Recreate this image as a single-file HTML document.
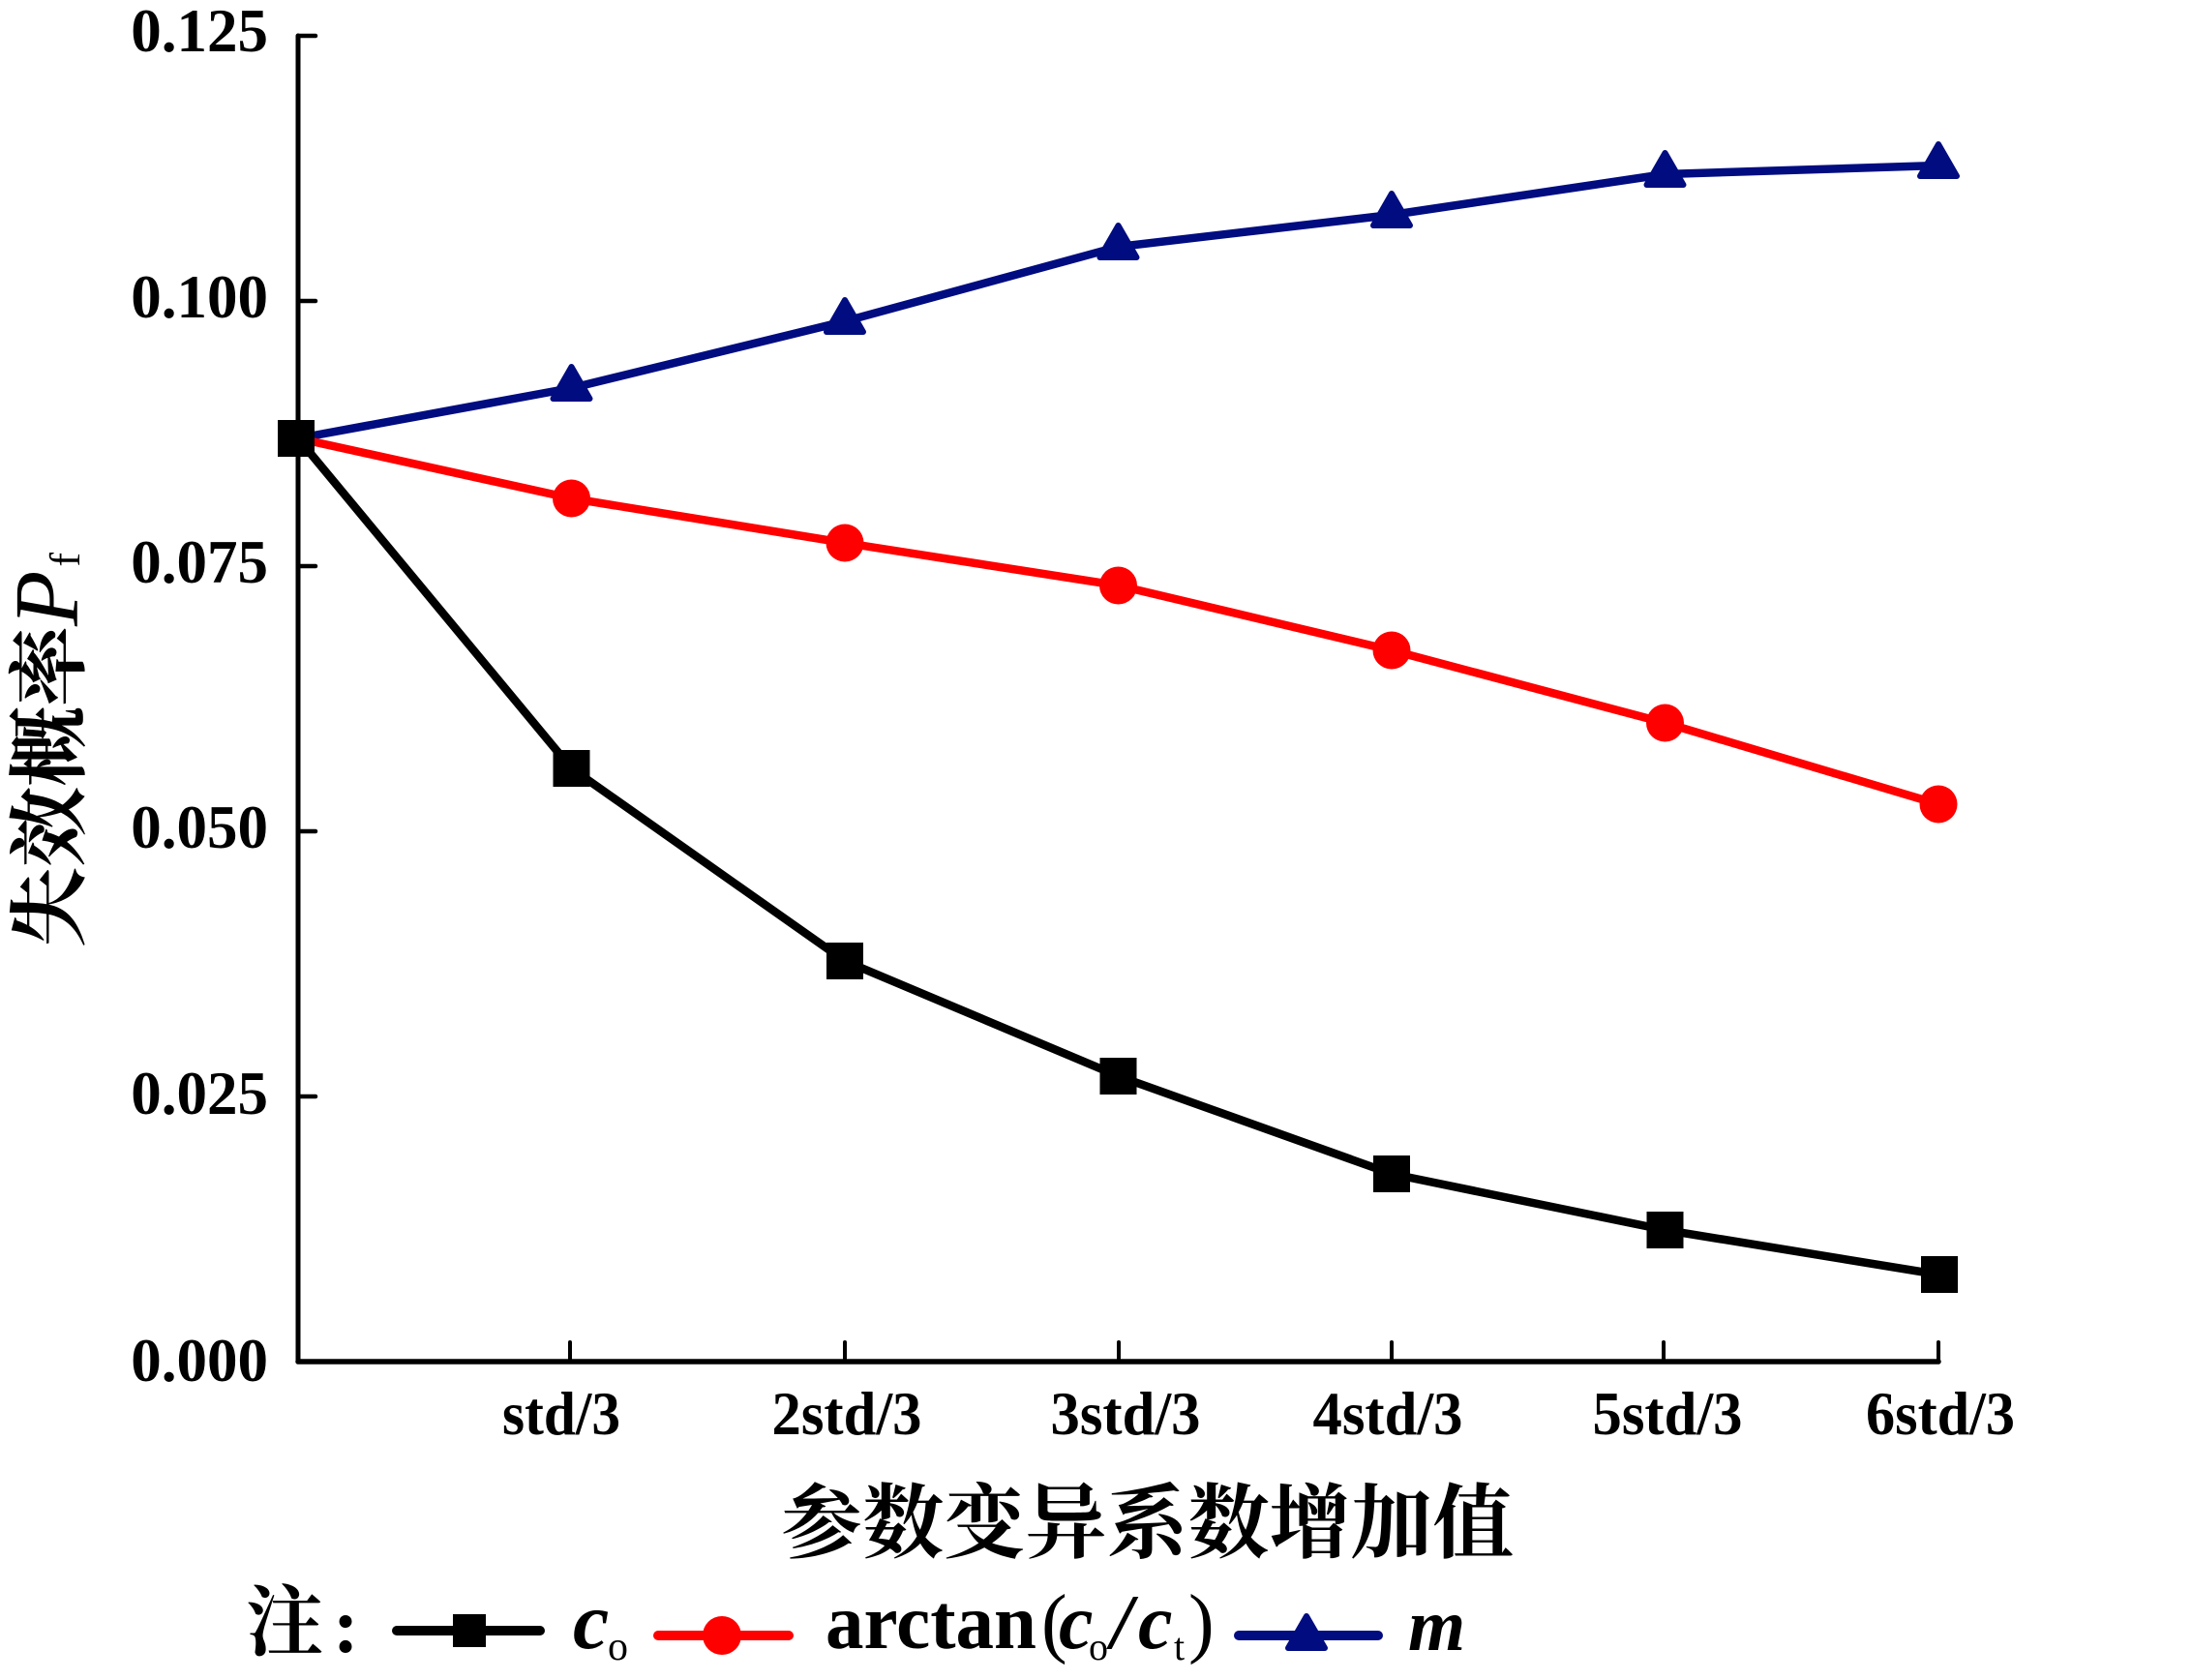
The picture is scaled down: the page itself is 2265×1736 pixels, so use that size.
<!DOCTYPE html>
<html>
<head>
<meta charset="utf-8">
<style>
  html,body{margin:0;padding:0;background:#fff;}
  svg{display:block;}
  .num{font-family:"Liberation Serif",serif;font-weight:bold;font-size:63px;fill:#000;}
  .cjk{font-family:"Liberation Serif","Noto Serif CJK SC",serif;font-weight:bold;fill:#000;}
  .ser{font-family:"Liberation Serif",serif;fill:#000;}
</style>
</head>
<body>
<svg width="2265" height="1736" viewBox="0 0 2265 1736" xmlns="http://www.w3.org/2000/svg">
  <rect x="0" y="0" width="2265" height="1736" fill="#fff"/>

  <!-- Axes -->
  <g stroke="#000" fill="none" stroke-linecap="round">
    <line x1="308" y1="37" x2="308" y2="1407" stroke-width="5"/>
    <line x1="308" y1="1407" x2="2003" y2="1407" stroke-width="5.5"/>
    <!-- y ticks -->
    <line x1="308" y1="37" x2="326" y2="37" stroke-width="4.5"/>
    <line x1="308" y1="311" x2="326" y2="311" stroke-width="4.5"/>
    <line x1="308" y1="585" x2="326" y2="585" stroke-width="4.5"/>
    <line x1="308" y1="859" x2="326" y2="859" stroke-width="4.5"/>
    <line x1="308" y1="1133" x2="326" y2="1133" stroke-width="4.5"/>
    <!-- x ticks -->
    <line x1="589" y1="1407" x2="589" y2="1387" stroke-width="4"/>
    <line x1="873" y1="1407" x2="873" y2="1387" stroke-width="4"/>
    <line x1="1156" y1="1407" x2="1156" y2="1387" stroke-width="4"/>
    <line x1="1438" y1="1407" x2="1438" y2="1387" stroke-width="4"/>
    <line x1="1719" y1="1407" x2="1719" y2="1387" stroke-width="4"/>
    <line x1="2003" y1="1407" x2="2003" y2="1387" stroke-width="4"/>
  </g>

  <!-- Y tick labels -->
  <g class="num" text-anchor="end">
    <text x="277" y="53">0.125</text>
    <text x="277" y="328">0.100</text>
    <text x="277" y="602">0.075</text>
    <text x="277" y="876">0.050</text>
    <text x="277" y="1151">0.025</text>
    <text x="277" y="1427">0.000</text>
  </g>

  <!-- X tick labels -->
  <g class="num" text-anchor="middle">
    <text x="580" y="1482" textLength="122" lengthAdjust="spacingAndGlyphs">std/3</text>
    <text x="875" y="1482" textLength="155" lengthAdjust="spacingAndGlyphs">2std/3</text>
    <text x="1163" y="1482" textLength="155" lengthAdjust="spacingAndGlyphs">3std/3</text>
    <text x="1434" y="1482" textLength="155" lengthAdjust="spacingAndGlyphs">4std/3</text>
    <text x="1723" y="1482" textLength="155" lengthAdjust="spacingAndGlyphs">5std/3</text>
    <text x="2005" y="1482" textLength="154" lengthAdjust="spacingAndGlyphs">6std/3</text>
  </g>

  <!-- Y axis title -->
  <text class="cjk" font-size="83" transform="translate(80,979) rotate(-90)">失效概率<tspan font-family="Liberation Serif, serif" font-style="italic" font-weight="normal" font-size="94">P</tspan><tspan font-family="Liberation Serif, serif" font-weight="normal" font-size="44" dx="4" dy="2">f</tspan></text>

  <!-- X axis title -->
  <text class="cjk" x="807" y="1603" font-size="84" textLength="757" lengthAdjust="spacingAndGlyphs">参数变异系数增加值</text>

  <!-- Series: m (blue) -->
  <polyline points="308,453 590.5,401 873,332 1155.5,255 1438,222 1720.5,180 2003,171"
            fill="none" stroke="#000c80" stroke-width="8.5" stroke-linejoin="round"/>
  <g fill="#000c80" stroke="#000c80" stroke-width="6" stroke-linejoin="round">
    <polygon points="590.5,379 571.5,412 609.5,412"/>
    <polygon points="873,310 854,343 892,343"/>
    <polygon points="1155.5,233 1136.5,266 1174.5,266"/>
    <polygon points="1438,200 1419,233 1457,233"/>
    <polygon points="1720.5,158 1701.5,191 1739.5,191"/>
    <polygon points="2003,149 1984,182 2022,182"/>
  </g>

  <!-- Series: arctan (red) -->
  <polyline points="308,453 590.5,515 873,561 1155.5,605 1438,672 1720.5,747 2003,831"
            fill="none" stroke="#ff0000" stroke-width="8.5" stroke-linejoin="round"/>
  <g fill="#ff0000">
    <circle cx="590.5" cy="515" r="19.5"/>
    <circle cx="873" cy="561" r="19.5"/>
    <circle cx="1155.5" cy="605" r="19.5"/>
    <circle cx="1438" cy="672" r="19.5"/>
    <circle cx="1720.5" cy="747" r="19.5"/>
    <circle cx="2003" cy="831" r="19.5"/>
  </g>

  <!-- Series: c_o (black) -->
  <polyline points="308,453 590.5,794 873,993 1155.5,1112 1438,1213 1720.5,1271 2003,1317"
            fill="none" stroke="#000" stroke-width="8.5" stroke-linejoin="round"/>
  <g fill="#000">
    <rect x="287" y="434" width="38" height="38"/>
    <rect x="571.5" y="775" width="38" height="38"/>
    <rect x="854" y="974" width="38" height="38"/>
    <rect x="1136.5" y="1093" width="38" height="38"/>
    <rect x="1419" y="1194" width="38" height="38"/>
    <rect x="1701.5" y="1252" width="38" height="38"/>
    <rect x="1985" y="1298" width="38" height="38"/>
  </g>

  <!-- Legend -->
  <text class="cjk" x="254" y="1704" font-size="80">注</text>
  <text class="ser" x="344" y="1707" font-size="80" font-weight="bold">:</text>

  <line x1="410" y1="1685" x2="558" y2="1685" stroke="#000" stroke-width="10" stroke-linecap="round"/>
  <rect x="468" y="1668" width="34" height="34" fill="#000"/>
  <text class="ser" x="592" y="1703" font-size="84" font-style="italic" font-weight="bold">c</text>
  <text class="ser" x="628" y="1715" font-size="42">o</text>

  <line x1="680" y1="1690" x2="815" y2="1690" stroke="#ff0000" stroke-width="10" stroke-linecap="round"/>
  <circle cx="746" cy="1690" r="20" fill="#ff0000"/>
  <text class="ser" x="853" y="1703" font-size="80" font-weight="bold" textLength="218" lengthAdjust="spacingAndGlyphs">arctan</text>
  <text class="ser" x="1076" y="1703" font-size="80">(</text>
  <text class="ser" x="1094" y="1703" font-size="80" font-style="italic" font-weight="bold">c</text>
  <text class="ser" x="1125" y="1715" font-size="40">o</text>
  <text class="ser" x="1148" y="1703" font-size="80" font-style="italic" font-weight="bold">/</text>
  <text class="ser" x="1176" y="1703" font-size="80" font-style="italic" font-weight="bold">c</text>
  <text class="ser" x="1213" y="1715" font-size="40">t</text>
  <text class="ser" x="1228" y="1703" font-size="80">)</text>

  <line x1="1280" y1="1690" x2="1424" y2="1690" stroke="#000c80" stroke-width="10" stroke-linecap="round"/>
  <polygon points="1350,1670 1331,1703 1369,1703" fill="#000c80" stroke="#000c80" stroke-width="6" stroke-linejoin="round"/>
  <text class="ser" x="1455" y="1705" font-size="76" font-style="italic" font-weight="bold">m</text>
</svg>
</body>
</html>
